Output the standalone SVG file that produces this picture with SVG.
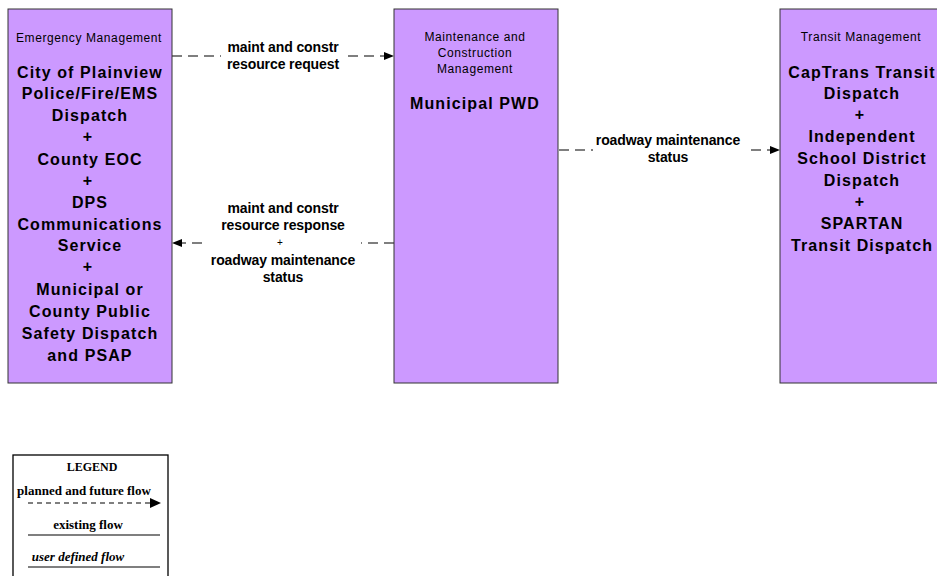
<svg xmlns="http://www.w3.org/2000/svg" width="937" height="576" viewBox="0 0 937 576">
<style>
.box{fill:#CC99FF;stroke:#333;stroke-width:1}
.ttl{font-family:"Liberation Sans",Arial,sans-serif;font-size:12px;fill:#000;text-anchor:middle;letter-spacing:0.6px}
.nm{font-family:"Liberation Sans",Arial,sans-serif;font-size:16px;font-weight:bold;fill:#000;text-anchor:middle;letter-spacing:1.1px}
.lbl{font-family:"Liberation Sans",Arial,sans-serif;font-size:14px;font-weight:bold;fill:#000;text-anchor:middle;letter-spacing:-0.1px}
.plus{font-family:"Liberation Sans",Arial,sans-serif;font-size:10px;fill:#000;text-anchor:middle}
.flow{stroke:#000;stroke-width:1.2;stroke-dasharray:10,6;fill:none}
.bg{fill:#fff}
.lg{font-family:"Liberation Serif","Times New Roman",serif;font-weight:bold;fill:#000;text-anchor:middle}
</style>
<defs>
<marker id="ah" markerWidth="10" markerHeight="8" refX="9" refY="4" orient="auto" markerUnits="userSpaceOnUse">
<path d="M0,0 L10,4 L0,8 Z" fill="#000"/>
</marker>
</defs>

<g id="connectors">
<line class="flow" x1="172" y1="56" x2="393" y2="56" marker-end="url(#ah)"/>
<rect class="bg" x="221" y="38" width="124" height="34"/>
<text class="lbl" x="283" y="52">maint and constr</text>
<text class="lbl" x="283" y="69">resource request</text>

<line class="flow" x1="559" y1="150" x2="779" y2="150" marker-end="url(#ah)"/>
<rect class="bg" x="593" y="131" width="152" height="34"/>
<text class="lbl" x="668" y="145">roadway maintenance</text>
<text class="lbl" x="668" y="162">status</text>

<line class="flow" x1="394" y1="243" x2="173" y2="243" marker-end="url(#ah)"/>
<rect class="bg" x="205" y="200" width="156" height="84"/>
<text class="lbl" x="283" y="213">maint and constr</text>
<text class="lbl" x="283" y="230">resource response</text>
<text class="plus" x="280" y="246">+</text>
<text class="lbl" x="283" y="265">roadway maintenance</text>
<text class="lbl" x="283" y="282">status</text>
</g>

<g id="emergency">
<rect class="box" x="8" y="9" width="164" height="374"/>
<text class="ttl" x="89" y="42">Emergency Management</text>
<text class="nm" x="90" y="78">City of Plainview</text>
<text class="nm" x="90" y="99">Police/Fire/EMS</text>
<text class="nm" x="90" y="121">Dispatch</text>
<text class="nm" x="88" y="142">+</text>
<text class="nm" x="90" y="165">County EOC</text>
<text class="nm" x="88" y="186">+</text>
<text class="nm" x="90" y="208">DPS</text>
<text class="nm" x="90" y="230">Communications</text>
<text class="nm" x="90" y="251">Service</text>
<text class="nm" x="88" y="272">+</text>
<text class="nm" x="90" y="295">Municipal or</text>
<text class="nm" x="90" y="317">County Public</text>
<text class="nm" x="90" y="339">Safety Dispatch</text>
<text class="nm" x="90" y="361">and PSAP</text>
</g>

<g id="maintenance">
<rect class="box" x="394" y="9" width="164" height="374"/>
<text class="ttl" x="475" y="41">Maintenance and</text>
<text class="ttl" x="475" y="57">Construction</text>
<text class="ttl" x="475" y="73">Management</text>
<text class="nm" x="475" y="109">Municipal PWD</text>
</g>

<g id="transit">
<rect class="box" x="780" y="9" width="164" height="374"/>
<text class="ttl" x="861" y="41">Transit Management</text>
<text class="nm" x="862" y="78">CapTrans Transit</text>
<text class="nm" x="862" y="99">Dispatch</text>
<text class="nm" x="860" y="120">+</text>
<text class="nm" x="862" y="142">Independent</text>
<text class="nm" x="862" y="164">School District</text>
<text class="nm" x="862" y="186">Dispatch</text>
<text class="nm" x="860" y="207">+</text>
<text class="nm" x="862" y="229">SPARTAN</text>
<text class="nm" x="862" y="251">Transit Dispatch</text>
</g>

<g id="legend">
<rect x="13" y="455" width="155" height="140" fill="#fff" stroke="#000" stroke-width="1.3"/>
<text class="lg" x="92" y="471" font-size="12">LEGEND</text>
<text class="lg" x="84" y="495" font-size="13">planned and future flow</text>
<line x1="28" y1="503" x2="150" y2="503" stroke="#000" stroke-width="1.2" stroke-dasharray="5,4"/>
<path d="M150,498 L161,503 L150,508 Z" fill="#000"/>
<text class="lg" x="88" y="529" font-size="13">existing flow</text>
<line x1="28" y1="535" x2="160" y2="535" stroke="#000" stroke-width="1.2"/>
<text class="lg" x="78" y="561" font-size="13" font-style="italic">user defined flow</text>
<line x1="28" y1="567" x2="160" y2="567" stroke="#000" stroke-width="1.2"/>
</g>
</svg>
